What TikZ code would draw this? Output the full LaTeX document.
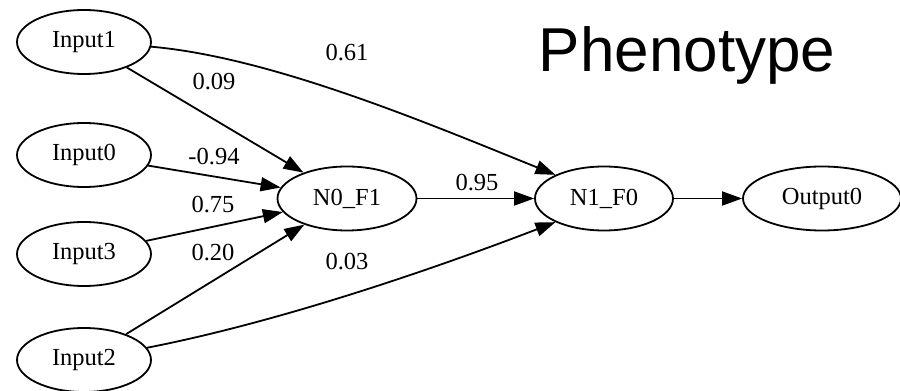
\documentclass[tikz,border=0pt]{standalone}
\usepackage{fontspec}
\setmainfont{Liberation Serif}
\newfontfamily\titlefont{Liberation Sans}
\usetikzlibrary{positioning,shapes.geometric}
\usetikzlibrary{arrows.meta}

\begin{document}
\begin{tikzpicture}[
	  x=0.5pt, y=0.5pt,
	  %style for arrows
	  arrw/.style={line width=0.9pt, -{Triangle[length=10pt,width=7pt]}},
      % style for the neurons
      nrn/.style={ellipse, draw=black, line width=0.9pt, inner sep=0pt,
                  minimum width=67pt, minimum height=32pt,
                  font=\fontsize{12.25}{14}\selectfont},
      % style for the weights
      wt/.style={inner sep=0pt, font=\fontsize{12.25}{14}\selectfont}]

      \useasboundingbox (0,0) rectangle (900,391);

      % inputs
      \node[nrn] (in1) at (84,349) {Input1};
      \node[nrn] (in0) at (84,236) {Input0};
      \node[nrn] (in3) at (84,137) {Input3};
      \node[nrn] (in2) at (84,31) {Input2};

      % hidden and output neurons
      \node[nrn, minimum width=69.5pt] (n0f1) at (347,192.5) {N0\_F1};
      \node[nrn, minimum width=69pt] (n1f0) at (604,192.5) {N1\_F0};
      \node[nrn, minimum width=79pt] (out0) at (822,192.5) {Output0};

      \node[anchor=base, inner sep=0pt, font=\titlefont\fontsize{31}{36}\selectfont]
            (title) at (687,319) {Phenotype};

      % connections
      \draw[arrw] (in1) -- (n0f1);
      \draw[arrw] (in0) -- (n0f1);
      \draw[arrw] (in3) -- (n0f1);
      \draw[arrw] (in2) -- (n0f1);
      \draw[arrw] (in1.-4) .. controls +(-5:120) and +(158:140) .. (n1f0.154);
      \draw[arrw] (in2.11) .. controls +(11:130) and +(201:140) .. (n1f0.206);
      \draw[arrw] (n0f1) -- (n1f0);
      \draw[arrw] (n1f0) -- (out0);

      % weights
      \node[wt] (w61) at (347,338) {0.61};
      \node[wt] (w09) at (214,309) {0.09};
      \node[wt] (w94) at (214,234) {-0.94};
      \node[wt] (w75) at (213,186) {0.75};
      \node[wt] (w20) at (213,138) {0.20};
      \node[wt] (w03) at (347,129) {0.03};
      \node[wt] (w95) at (477,208) {0.95};

\end{tikzpicture}
\end{document}
